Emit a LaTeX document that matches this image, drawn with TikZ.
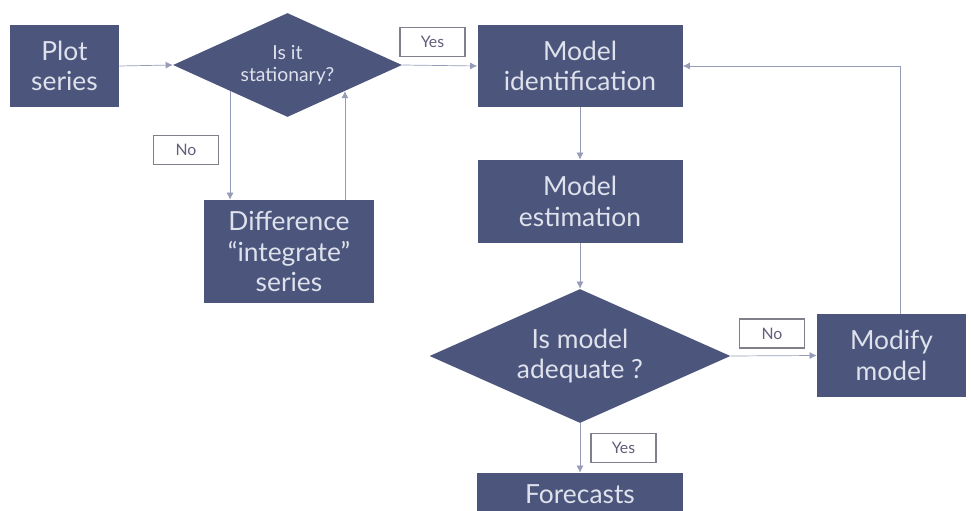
\documentclass[tikz,border=0pt]{standalone}
\usepackage{fontspec}
\setmainfont{Lato}
\usepackage{tikz}
\usetikzlibrary{positioning,calc,shapes,arrows.meta}
\tikzset{
	-{Latex[length=4pt,width=4pt]},line width=0.7pt,% every connector gets a small filled tip
	block/.style ={rectangle, fill=boxcolor, text=fontcolor, align=center, inner sep=0pt, font=\fontsize{15}{17.5}\selectfont}, % the dark boxes of the chart
	decision/.style ={diamond, aspect=2.2, fill=boxcolor, text=fontcolor, align=center, inner sep=0pt, font=\fontsize{15}{17.5}\selectfont}, % the questions, flat diamonds
	tag/.style = {rectangle, draw=tagborder, fill=white, text=tagtext, line width=0.6pt, inner sep=0pt, minimum width=1.3cm, minimum height=0.58cm, font=\fontsize{9}{10}\selectfont}, % small Yes / No boxes
	flow/.style = {draw=linecolor}
}

\begin{document}
\begin{tikzpicture}
\definecolor{boxcolor}{RGB}{76,85,124}
\definecolor{fontcolor}{RGB}{222,226,236}
\definecolor{linecolor}{RGB}{150,156,184}
\definecolor{tagborder}{RGB}{128,128,138}
\definecolor{tagtext}{RGB}{100,92,122}
\useasboundingbox (0,0) rectangle (19.42,-10.22);
% boxes
\node[block, minimum width=2.18cm, minimum height=1.64cm] (plot) at (1.29,-1.32) {Plot\\series};
\node[decision, minimum width=4.58cm, minimum height=2.08cm, font=\fontsize{11}{12.5}\selectfont] (stat) at (5.75,-1.30) {Is it\\stationary?};
\node[block, minimum width=4.10cm, minimum height=1.64cm] (ident) at (11.60,-1.32) {Model\\identification};
\node[block, minimum width=3.40cm, minimum height=2.06cm] (diff) at (5.78,-5.03) {Difference\\“integrate”\\series};
\node[block, minimum width=4.10cm, minimum height=1.66cm] (estim) at (11.60,-4.03) {Model\\estimation};
\node[decision, minimum width=6.02cm, minimum height=2.68cm] (adeq) at (11.60,-7.12) {Is model\\adequate ?};
\node[block, minimum width=2.98cm, minimum height=1.66cm] (modify) at (17.83,-7.11) {Modify\\model};
\node[block, minimum width=4.12cm, minimum height=0.84cm] (fore) at (11.60,-9.88) {Forecasts};
% yes / no tags
\node[tag] (yes1) at (8.65,-0.84) {Yes};
\node[tag] (no1) at (3.72,-3.00) {No};
\node[tag] (no2) at (15.44,-6.67) {No};
\node[tag] (yes2) at (12.47,-8.96) {Yes};
% connectors
\draw[flow] (plot.east) -- (stat.west);
\draw[flow] (stat.east) -- (ident.west);
\draw[flow] (stat.south west) -- (stat.south west |- diff.north);
\draw[flow] (diff.north -| stat.south east) -- (stat.south east);
\draw[flow] (ident) -- (estim);
\draw[flow] (estim) -- (adeq);
\draw[flow] (adeq) -- (fore);
\draw[flow] (adeq.east) -- (modify.west);
\coordinate (up) at ([xshift=0.17cm]modify.north);
\draw[flow] (up) |- (ident.east);
\end{tikzpicture}
\end{document}
